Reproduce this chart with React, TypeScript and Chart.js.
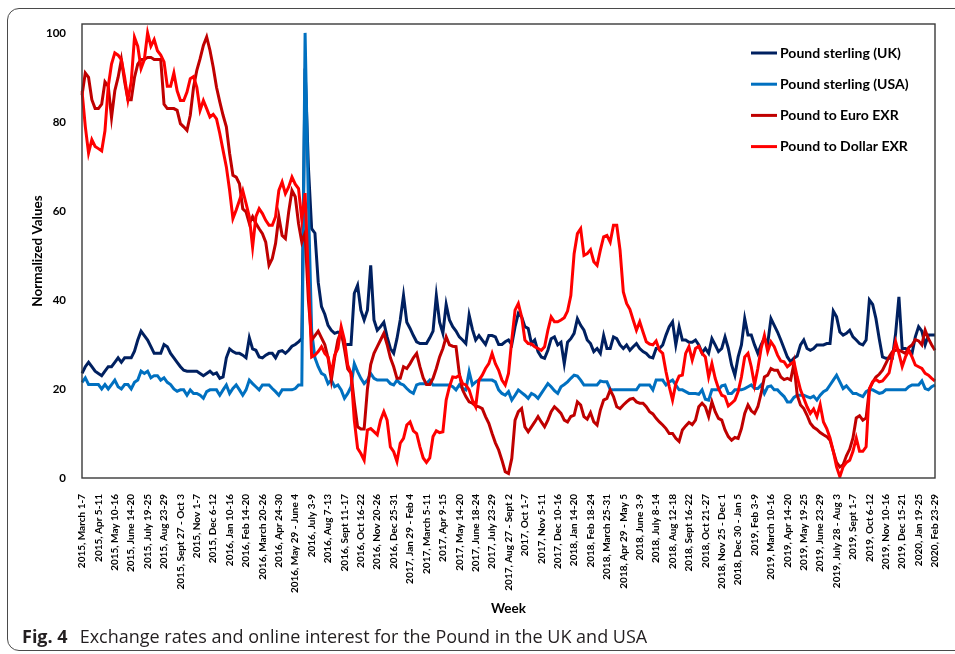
import React, { useEffect, useRef } from 'react';
import { Chart, registerables } from 'chart.js';

Chart.register(...registerables);

const TICK_LABELS = [
  '2015, March 1-7', '2015, Apr 5-11', '2015, May 10-16', '2015, June 14-20', '2015, July 19-25',
  '2015, Aug 23-29', '2015, Sept 27 - Oct 3', '2015, Nov 1-7', '2015, Dec 6-12', '2016, Jan 10-16',
  '2016, Feb 14-20', '2016, March 20-26', '2016, Apr 24-30', '2016, May 29 - June 4', '2016, July 3-9',
  '2016, Aug 7-13', '2016, Sept 11-17', '2016, Oct 16-22', '2016, Nov 20-26', '2016, Dec 25-31',
  '2017, Jan 29 - Feb 4', '2017, March 5-11', '2017, Apr 9-15', '2017, May 14-20', '2017, June 18-24',
  '2017, July 23-29', '2017, Aug 27 - Sept 2', '2017, Oct 1-7', '2017, Nov 5-11', '2017, Dec 10-16',
  '2018, Jan 14-20', '2018, Feb 18-24', '2018, March 25-31', '2018, Apr 29 - May 5', '2018, June 3-9',
  '2018, July 8-14', '2018, Aug 12-18', '2018, Sept 16-22', '2018, Oct 21-27', '2018, Nov 25 - Dec 1',
  '2018, Dec 30 - Jan 5', '2019, Feb 3-9', '2019, March 10-16', '2019, Apr 14-20', '2019, May 19-25',
  '2019, June 23-29', '2019, July 28 - Aug 3', '2019, Sept 1-7', '2019, Oct 6-12', '2019, Nov 10-16',
  '2019, Dec 15-21', '2020, Jan 19-25', '2020, Feb 23-29',
];

// weekly values, 261 weeks (one tick label every 5 weeks)
const POUND_UK = [
  23.5, 25, 26, 25, 24, 23.5, 23, 24, 25, 25,
  26, 27, 26, 27, 27, 27, 28.5, 31, 33, 32,
  31, 29.5, 28, 28, 28, 30, 29.5, 28, 27, 26,
  25, 24.2, 24, 24, 24, 24, 23.5, 23, 23.5, 24,
  23.3, 23.6, 22.4, 22.7, 27, 29, 28.4, 28, 28, 27.6,
  27, 31.5, 29, 28.7, 27.2, 27, 27.6, 28, 28, 27,
  28.4, 28.6, 28, 28.7, 29.6, 30, 30.6, 31.3, 92, 70,
  56, 55, 44, 38.5, 36.8, 34.3, 33.2, 32.5, 32.8, 32.5,
  29.9, 30, 30, 41.5, 43.3, 37.7, 35.5, 37.7, 47.8, 35.5,
  33.2, 34, 35, 31.7, 29.1, 28, 31.3, 35.5, 41, 35,
  33.6, 32, 30.6, 30.2, 30.2, 30.2, 31.5, 33, 41, 35,
  32.5, 39, 35.5, 34, 33, 31.7, 31, 30.2, 36.6, 33.4,
  31, 32, 31, 30, 32, 32, 31.7, 30, 30, 30.6,
  31, 30, 34, 37, 36.2, 34, 33.6, 30.2, 31, 28.4,
  27.2, 26.9, 28.7, 31.3, 31.7, 29.9, 30.5, 25.7, 30.5, 31.3,
  32.5, 35.8, 34.3, 33.2, 31, 30.2, 28.4, 29.1, 28, 32,
  29.1, 29.1, 31.7, 31.3, 29.9, 29.1, 29.9, 28.7, 29.5, 30.2,
  29.1, 28.4, 28, 27.2, 27, 29.1, 29.1, 29.9, 32.1, 34,
  35.1, 29.9, 34, 31, 31, 30.5, 30.5, 31, 29.9, 28.1,
  29.1, 28, 31.3, 29.9, 28.4, 29.1, 31.7, 29.1, 25.4, 23.1,
  27.2, 29.9, 35.8, 32.1, 32.1, 29.9, 28, 29.9, 31.4, 30.2,
  35.8, 34.3, 32.8, 31, 29.1, 27.2, 26.1, 26.9, 27.4, 29.9,
  31, 29.1, 28.7, 29.1, 29.9, 29.9, 29.9, 30.2, 30.2, 37.5,
  36.2, 32.8, 32.1, 32.5, 33.2, 31.7, 31, 30.2, 29.9, 31,
  40, 39, 35.8, 31.3, 27.2, 26.9, 26.9, 26.9, 32.5, 40.7,
  29.1, 29.1, 28.7, 28, 31.7, 34, 33, 29.9, 32.1, 32.1,
  32.1,
];

const POUND_USA = [
  21.5, 22.5, 21, 21, 21, 21, 20, 21, 20, 21,
  22, 20.5, 20, 21, 21, 20, 21.5, 22, 24, 23.5,
  24, 22.5, 23, 23, 22, 22.5, 21.5, 21, 20, 19.5,
  19.8, 19.8, 18.6, 19.8, 19, 19, 18.6, 17.9, 19.4, 19.8,
  19.8, 19.8, 18.6, 19.8, 20.9, 19, 20.1, 20.9, 19.8, 18.6,
  19.8, 22, 21.2, 20.5, 19.8, 20.9, 20.9, 20.9, 20.1, 19.4,
  18.6, 19.8, 19.8, 19.8, 19.8, 20.1, 20.9, 20.9, 100, 62,
  33, 27, 25, 23.5, 23.1, 21.2, 22, 20.5, 20.9, 19.8,
  17.9, 19, 20.5, 25.7, 23.9, 22.4, 21.2, 22, 23.5, 22.4,
  22, 22, 22, 22, 21.2, 20.9, 22, 21.2, 20.9, 20.1,
  19.4, 19, 20.9, 21.2, 21.2, 21.2, 22, 20.9, 20.9, 20.9,
  20.9, 20.9, 20.9, 20.5, 19.8, 20.9, 20.1, 19.8, 23.9, 20.9,
  21.6, 22, 22, 22, 22, 22, 21.6, 19.8, 19, 18.6,
  19.4, 17.5, 18.6, 19.8, 19.2, 18.6, 17.9, 19, 18.6, 17.9,
  19, 20.1, 21.2, 20.5, 19.6, 19, 20.5, 21, 21.6, 22.4,
  23.1, 22.9, 22, 20.9, 20.9, 20.9, 20.9, 20.9, 21.8, 21.6,
  21.6, 19.9, 19.8, 19.8, 19.8, 19.8, 19.8, 19.8, 19.8, 19.8,
  20.9, 20.9, 20.9, 20.9, 19.8, 22, 22, 22, 20.9, 21.6,
  22, 20.9, 19.8, 19.8, 19.4, 19, 19, 19, 18.8, 19.8,
  17.7, 17.5, 19.8, 19.8, 19.8, 20.7, 20.9, 19, 19, 19.8,
  19.8, 19.8, 20.1, 20.5, 20.9, 20.1, 20.1, 20.9, 19, 20.5,
  20.7, 19.8, 19.8, 19, 18.3, 17.1, 17.1, 18.1, 18.6, 18.6,
  18.6, 18.3, 18, 18.4, 17.5, 18.6, 19.4, 19.8, 20.9, 22,
  23.1, 21.6, 20.1, 20.7, 19.8, 19, 19, 18.6, 18.3, 19.4,
  19.8, 19.8, 19.4, 19, 19.2, 19.8, 19.8, 19.8, 19.8, 19.8,
  19.8, 19.8, 20.5, 20.9, 20.9, 20.9, 21.8, 20.1, 19.8, 20.5,
  20.9,
];

const POUND_EURO = [
  86, 91, 90, 85, 83, 83, 84, 89, 88, 81,
  87, 90, 94, 89, 85, 85, 90, 93, 94, 94,
  94.5, 94.5, 94, 94, 94, 84, 83, 83, 83, 82.6,
  79.6, 78.9, 78.1, 81.5, 87.8, 91.6, 94.2, 97.2, 99.1, 96.1,
  92.3, 87.8, 84.5, 81.5, 78.9, 72.9, 68, 67.6, 66.1, 60.5,
  59.8, 57.2, 58.7, 57.2, 56, 54.9, 53, 47.8, 49.3, 52.7,
  58.7, 54.5, 53.8, 59.8, 64.6, 63.2, 57.2, 53, 55, 40,
  31, 32, 33, 31.5, 30, 27, 22, 27, 31, 33,
  29, 24.5, 23.5, 17, 11.5, 11, 11, 20, 25.5, 28,
  29.5, 31, 32.5, 30, 27, 25, 22.4, 22.4, 25, 24.6,
  25.7, 27, 28, 25, 22.5, 21, 21, 22.4, 24.6, 27.2,
  29.1, 31.7, 29.9, 29.6, 29.5, 23.5, 19.8, 18.3, 17.1, 16.8,
  16.2, 16, 15.6, 13.8, 12.3, 10, 7.9, 6.3, 4, 1.4,
  1, 4.4, 13, 14.9, 15.6, 11.5, 10.4, 11.5, 12.6, 13.8,
  12.6, 11.5, 13, 14.9, 16, 15.3, 14.5, 13, 12.6, 13.8,
  14.1, 17.1, 16.4, 13.8, 13.2, 14.7, 12.6, 11.9, 15.3, 17.5,
  17.9, 19.8, 18.3, 16, 15.6, 16.4, 17.1, 17.7, 17.9, 17.1,
  16.8, 16.8, 16, 14.9, 14.4, 13.4, 12.6, 11.9, 11.1, 10,
  10, 8.9, 8.2, 10.8, 11.7, 12.5, 12, 13, 16, 16.8,
  16, 13.8, 17.1, 14.9, 13.4, 13, 10.8, 9.3, 8.5, 9.1,
  8.9, 11.1, 14.5, 16.4, 15.1, 14.5, 16, 19, 22.7, 23.1,
  24.6, 24.2, 24.2, 22.7, 22.1, 22.4, 22, 25.7, 18.6, 16.4,
  15.6, 14.1, 12.3, 11.4, 10.9, 10.2, 9.7, 9.3, 8.5, 6,
  3.5, 2.5, 3, 5, 6.5, 9, 13.5, 14, 13, 13.5,
  20, 21.5, 22.7, 23.3, 24.2, 25.7, 27.2, 28.4, 28.7, 28.7,
  28.4, 28, 29.3, 29.9, 31.1, 30.8, 29.9, 33.2, 31.3, 29.9,
  28.7,
];

const POUND_DOLLAR = [
  87, 79, 73, 76, 74.5, 74, 73.5, 78, 88, 93,
  95.5, 95, 94, 90, 85, 89, 99, 97, 92, 94,
  100, 97, 98.5, 96, 95, 93.5, 88, 88, 91, 87,
  84.8, 84.8, 86.7, 89.7, 90.2, 87.8, 82.6, 84.8, 83, 81.1,
  81.7, 80.7, 77.4, 73.6, 69.9, 64.6, 58.3, 60.2, 62.4, 64.6,
  61.7, 58.7, 51.9, 58.7, 60.5, 59.4, 57.9, 56.8, 56.8, 58.7,
  64.6, 66.5, 63.9, 65.4, 67.6, 66, 65, 58, 64, 45,
  27.2, 27.6, 28.4, 29.5, 28, 27.2, 23.5, 27.6, 29.1, 34,
  31, 25.4, 23.5, 13, 6.7, 5.5, 4, 10.8, 11.1, 10.4,
  9.7, 13, 14.9, 13, 7, 5.9, 3.7, 7.8, 8.9, 11.9,
  12.6, 10.6, 10, 7, 4.5, 3.5, 4.5, 9.3, 10.6, 10.2,
  10.4, 17.5, 20.5, 22.7, 22.6, 23.1, 21.2, 20.9, 19.8, 17.5,
  16, 22, 23.1, 24.6, 25.7, 28, 25.7, 24.2, 22, 20.9,
  23.5, 31, 37.7, 39.2, 36.2, 31, 30.2, 30.1, 29.5, 29.1,
  28.7, 29.5, 33.2, 36.2, 35.1, 35.1, 35.5, 36, 37.5, 41,
  50.4, 54.9, 56, 50, 50.4, 51.3, 48.6, 47.8, 51.2, 54.2,
  54.5, 53, 56.8, 56.8, 51.2, 41.8, 39.2, 37.9, 35.5, 33.2,
  35.1, 32.8, 30.6, 30.1, 29.9, 30.8, 28.7, 28, 23.9, 20.5,
  17.5, 21.2, 22.9, 23.1, 28, 29.5, 26.5, 29.1, 29.6, 28,
  27.2, 22.7, 25.7, 22.4, 20.1, 18.6, 18.3, 16.2, 16.8, 17.5,
  19.4, 22.7, 27.2, 28, 25, 20.9, 24.6, 29.1, 32, 28.4,
  30.6, 29.5, 27.6, 26.3, 26.1, 25, 25.6, 26.1, 22.7, 19.8,
  17.9, 16, 14.5, 15.5, 13.8, 16.5, 12.6, 11.1, 9, 6,
  2.5, 0.3, 2.5, 3.5, 4, 6, 9, 6, 6, 7,
  20, 21.6, 22.1, 21.6, 21.8, 22.7, 23.6, 27.2, 30.6, 28,
  25, 27.2, 28.7, 27.2, 25.4, 25, 24.6, 23.5, 23.1, 22.4,
  21.8,
];

const SERIES_NAMES = ['Pound sterling (UK)', 'Pound sterling (USA)', 'Pound to Euro EXR', 'Pound to Dollar EXR'];
const SERIES_COLORS = ['#002060', '#0070C0', '#C00000', '#FF0000'];

const TICK_EVERY = 5;
const WEEK_LABELS = POUND_UK.map((_, i) => (i % TICK_EVERY === 0 ? TICK_LABELS[i / TICK_EVERY] : ''));

const FONT = 'Lato, "Open Sans", sans-serif';

const boxPlugin = {
  id: 'plotBox',
  afterDatasetsDraw(chart: any) {
    const { ctx, chartArea } = chart;
    ctx.save();
    ctx.strokeStyle = '#3a3a3a';
    ctx.lineWidth = 1.4;
    ctx.strokeRect(chartArea.left, chartArea.top, chartArea.right - chartArea.left, chartArea.bottom - chartArea.top);
    ctx.restore();
  },
};

const legendPlugin = {
  id: 'insideLegend',
  afterDraw(chart: any) {
    const { ctx } = chart;
    ctx.save();
    ctx.font = `bold 14px ${FONT}`;
    ctx.textBaseline = 'middle';
    ctx.textAlign = 'left';
    chart.data.datasets.forEach((ds: any, i: number) => {
      const y = 53 + i * 31.2;
      ctx.strokeStyle = ds.borderColor;
      ctx.lineWidth = 3;
      ctx.beginPath();
      ctx.moveTo(751, y);
      ctx.lineTo(777, y);
      ctx.stroke();
      ctx.fillStyle = '#000';
      ctx.fillText(ds.label, 780, y);
    });
    ctx.restore();
  },
};

export default function App() {
  const ref = useRef<HTMLCanvasElement>(null);

  useEffect(() => {
    if (!ref.current) return;
    const values = [POUND_UK, POUND_USA, POUND_EURO, POUND_DOLLAR];
    const chart = new Chart(ref.current, {
      type: 'line',
      data: {
        labels: WEEK_LABELS,
        datasets: values.map((v, i) => ({
          label: SERIES_NAMES[i],
          data: v,
          borderColor: SERIES_COLORS[i],
          backgroundColor: SERIES_COLORS[i],
          borderWidth: 3,
          pointRadius: 0,
          tension: 0,
          fill: false,
          order: 3 - i,
        })),
      },
      options: {
        responsive: false,
        animation: false,
        devicePixelRatio: 1,
        layout: { padding: { left: 10, right: 19, top: 24, bottom: 0 } },
        plugins: { legend: { display: false }, tooltip: { enabled: false } },
        scales: {
          x: {
            type: 'category',
            offset: false,
            grid: { display: false },
            border: { display: false },
            ticks: {
              autoSkip: false,
              minRotation: 90,
              maxRotation: 90,
              padding: 8,
              color: '#000',
              font: { family: FONT, weight: 'bold', size: 10 },
            },
            afterBuildTicks: (s: any) => {
              s.ticks = s.ticks.filter((t: any) => t.value % TICK_EVERY === 0);
            },
            afterFit: (s: any) => {
              s.height = 147;
            },
            title: {
              display: true,
              text: 'Week',
              color: '#000',
              font: { family: FONT, weight: 'bold', size: 13.5 },
              padding: { top: 0, bottom: 8 },
            },
          },
          y: {
            min: 0,
            max: 102,
            grid: { display: false },
            border: { display: false },
            ticks: {
              stepSize: 20,
              includeBounds: false,
              padding: 8,
              color: '#000',
              font: { family: FONT, weight: 'bold', size: 11.5 },
            },
            afterBuildTicks: (s: any) => {
              s.ticks = s.ticks.filter((t: any) => t.value % 20 === 0);
            },
            afterFit: (s: any) => {
              s.width = 72;
            },
            title: {
              display: true,
              text: 'Normalized Values',
              color: '#000',
              font: { family: FONT, weight: 'bold', size: 13.5 },
              padding: { top: 20, bottom: 0 },
            },
          },
        },
      },
      plugins: [boxPlugin, legendPlugin],
    } as any);
    return () => chart.destroy();
  }, []);

  return (
    <div style={{ position: 'fixed', left: 0, top: 0, width: 955, height: 654, overflow: 'hidden', background: '#fff' }}>
      <div
        style={{
          position: 'absolute',
          left: 7,
          top: 8,
          width: 1000,
          height: 643,
          border: '1px solid #4a4a4a',
          borderRadius: 12,
          boxSizing: 'border-box',
        }}
      />
      <canvas ref={ref} width={955} height={625} style={{ position: 'absolute', left: 0, top: 0 }} />
      <div
        style={{
          position: 'absolute',
          left: 22,
          top: 623,
          fontFamily: '"Open Sans", sans-serif',
          fontSize: 18,
          lineHeight: '26px',
          color: '#231f20',
          whiteSpace: 'nowrap',
        }}
      >
        <b>Fig. 4</b>
        <span style={{ marginLeft: 12 }}>Exchange rates and online interest for the Pound in the UK and USA</span>
      </div>
    </div>
  );
}
